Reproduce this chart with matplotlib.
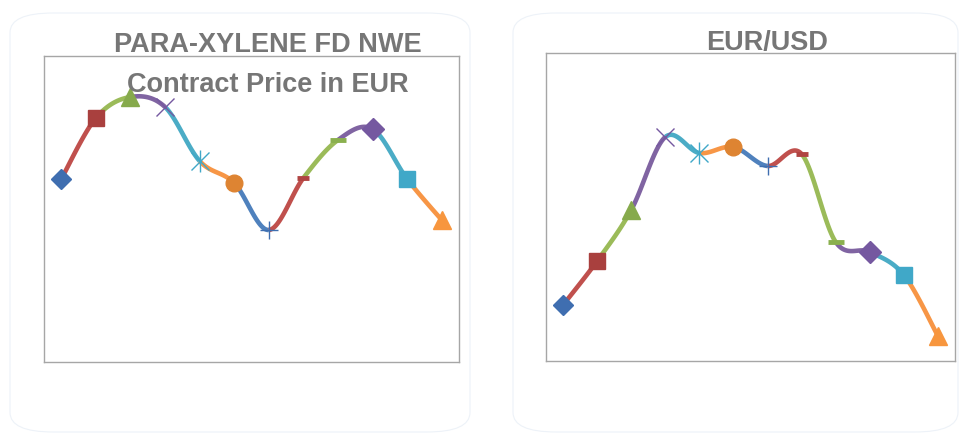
import numpy as np
import matplotlib
matplotlib.use("Agg")
import matplotlib.pyplot as plt
from matplotlib.patches import FancyBboxPatch

# ---- data (arbitrary index units) ----
months = list(range(1, 13))
pxylene = [183, 244, 265, 255, 201, 179, 132, 184, 222, 233, 183, 142]
eurusd = [56, 100, 151, 224, 208, 214, 195, 207, 119, 109, 86, 25]
title_left = "PARA-XYLENE FD NWE\nContract Price in EUR"
title_right = "EUR/USD"

line_colors = ["#4F81BD", "#C0504D", "#9BBB59", "#8064A2", "#4BACC6", "#F79646",
               "#4F81BD", "#C0504D", "#9BBB59", "#8064A2", "#4BACC6", "#F79646"]
marker_colors = ["#3F6EB0", "#A9403E", "#86AA4C", "#7558A0", "#40A8C8", "#DE8432",
                 "#3F6EB0", "#B04442", "#8AB04E", "#7558A0", "#40A8C8", "#F7963E"]
markers = ["D", "s", "^", "x", "star", "o", "+", "_", "_", "D", "s", "^"]
msizes = [10, 12, 13, 13, 13, 12, 13, 8, 11, 11, 12, 13]


def catmull(x, y, n=30):
    x = np.asarray(x, float)
    y = np.asarray(y, float)
    P = np.column_stack([x, y])
    segs = []
    for i in range(len(P) - 1):
        p0 = P[i - 1] if i > 0 else P[i]
        p1 = P[i]
        p2 = P[i + 1]
        p3 = P[i + 2] if i + 2 < len(P) else P[i + 1]
        c1 = p1 + (p2 - p0) / 6.0
        c2 = p2 - (p3 - p1) / 6.0
        t = np.linspace(0, 1, n)[:, None]
        b = (1 - t) ** 3 * p1 + 3 * (1 - t) ** 2 * t * c1 + 3 * (1 - t) * t ** 2 * c2 + t ** 3 * p2
        segs.append(b)
    return segs


def draw(ax, y, ymax):
    segs = catmull(months, y)
    for i, s in enumerate(segs):
        ax.plot(s[:, 0], s[:, 1], color=line_colors[i + 1], lw=3.3,
                solid_capstyle="butt", zorder=2)
    for i, (xv, yv) in enumerate(zip(months, y)):
        m = markers[i]
        c = marker_colors[i]
        if m == "star":
            ax.plot([xv], [yv], marker="x", ms=msizes[i], mew=1.0, color=c, zorder=3)
            ax.plot([xv], [yv], marker="|", ms=msizes[i] + 3, mew=1.0, color=c, zorder=3)
        elif m in ("x", "+"):
            ax.plot([xv], [yv], marker=m, ms=msizes[i], mew=1.0, color=c, zorder=3)
        elif m == "_":
            ax.plot([xv], [yv], marker=m, ms=msizes[i], mew=3.5, color=c, zorder=3)
        else:
            ax.plot([xv], [yv], marker=m, ms=msizes[i], color=c, mec=c, zorder=3)
    ax.set_xlim(0.5, 12.5)
    ax.set_ylim(0, ymax)
    ax.set_xticks([])
    ax.set_yticks([])
    for sp in ax.spines.values():
        sp.set_color("#a6a6a6")
        sp.set_linewidth(1.0)
    ax.patch.set_alpha(0)


W, H = 961, 434
fig = plt.figure(figsize=(W / 100, H / 100), dpi=100)
fig.patch.set_facecolor("white")

# rounded panels
for (x0, y0, x1, y1) in [(10, 13, 470, 432), (513, 13, 958, 432)]:
    fig.patches.append(FancyBboxPatch((x0 / W, 1 - y1 / H), (x1 - x0) / W, (y1 - y0) / H,
                                      boxstyle="round,pad=0,rounding_size=0.045",
                                      transform=fig.transFigure, facecolor="white",
                                      edgecolor="#edf2f8", lw=0.8, zorder=-5))

ax1 = fig.add_axes([44 / W, 1 - 362 / H, 415 / W, 306 / H])
ax2 = fig.add_axes([546 / W, 1 - 361 / H, 409 / W, 308 / H])
draw(ax1, pxylene, 306)
draw(ax2, eurusd, 308)

tfont = dict(family=["Liberation Sans", "DejaVu Sans"],
             weight="bold", color="#767676", fontsize=19.5)
fig.text(268 / W, 1 - 65 / H, title_left, ha="center", va="center",
         linespacing=1.7, zorder=5, **tfont)
fig.text(767 / W, 1 - 43 / H, title_right, ha="center", va="center", zorder=5, **tfont)

fig.savefig("out.png", dpi=100, facecolor="white")
